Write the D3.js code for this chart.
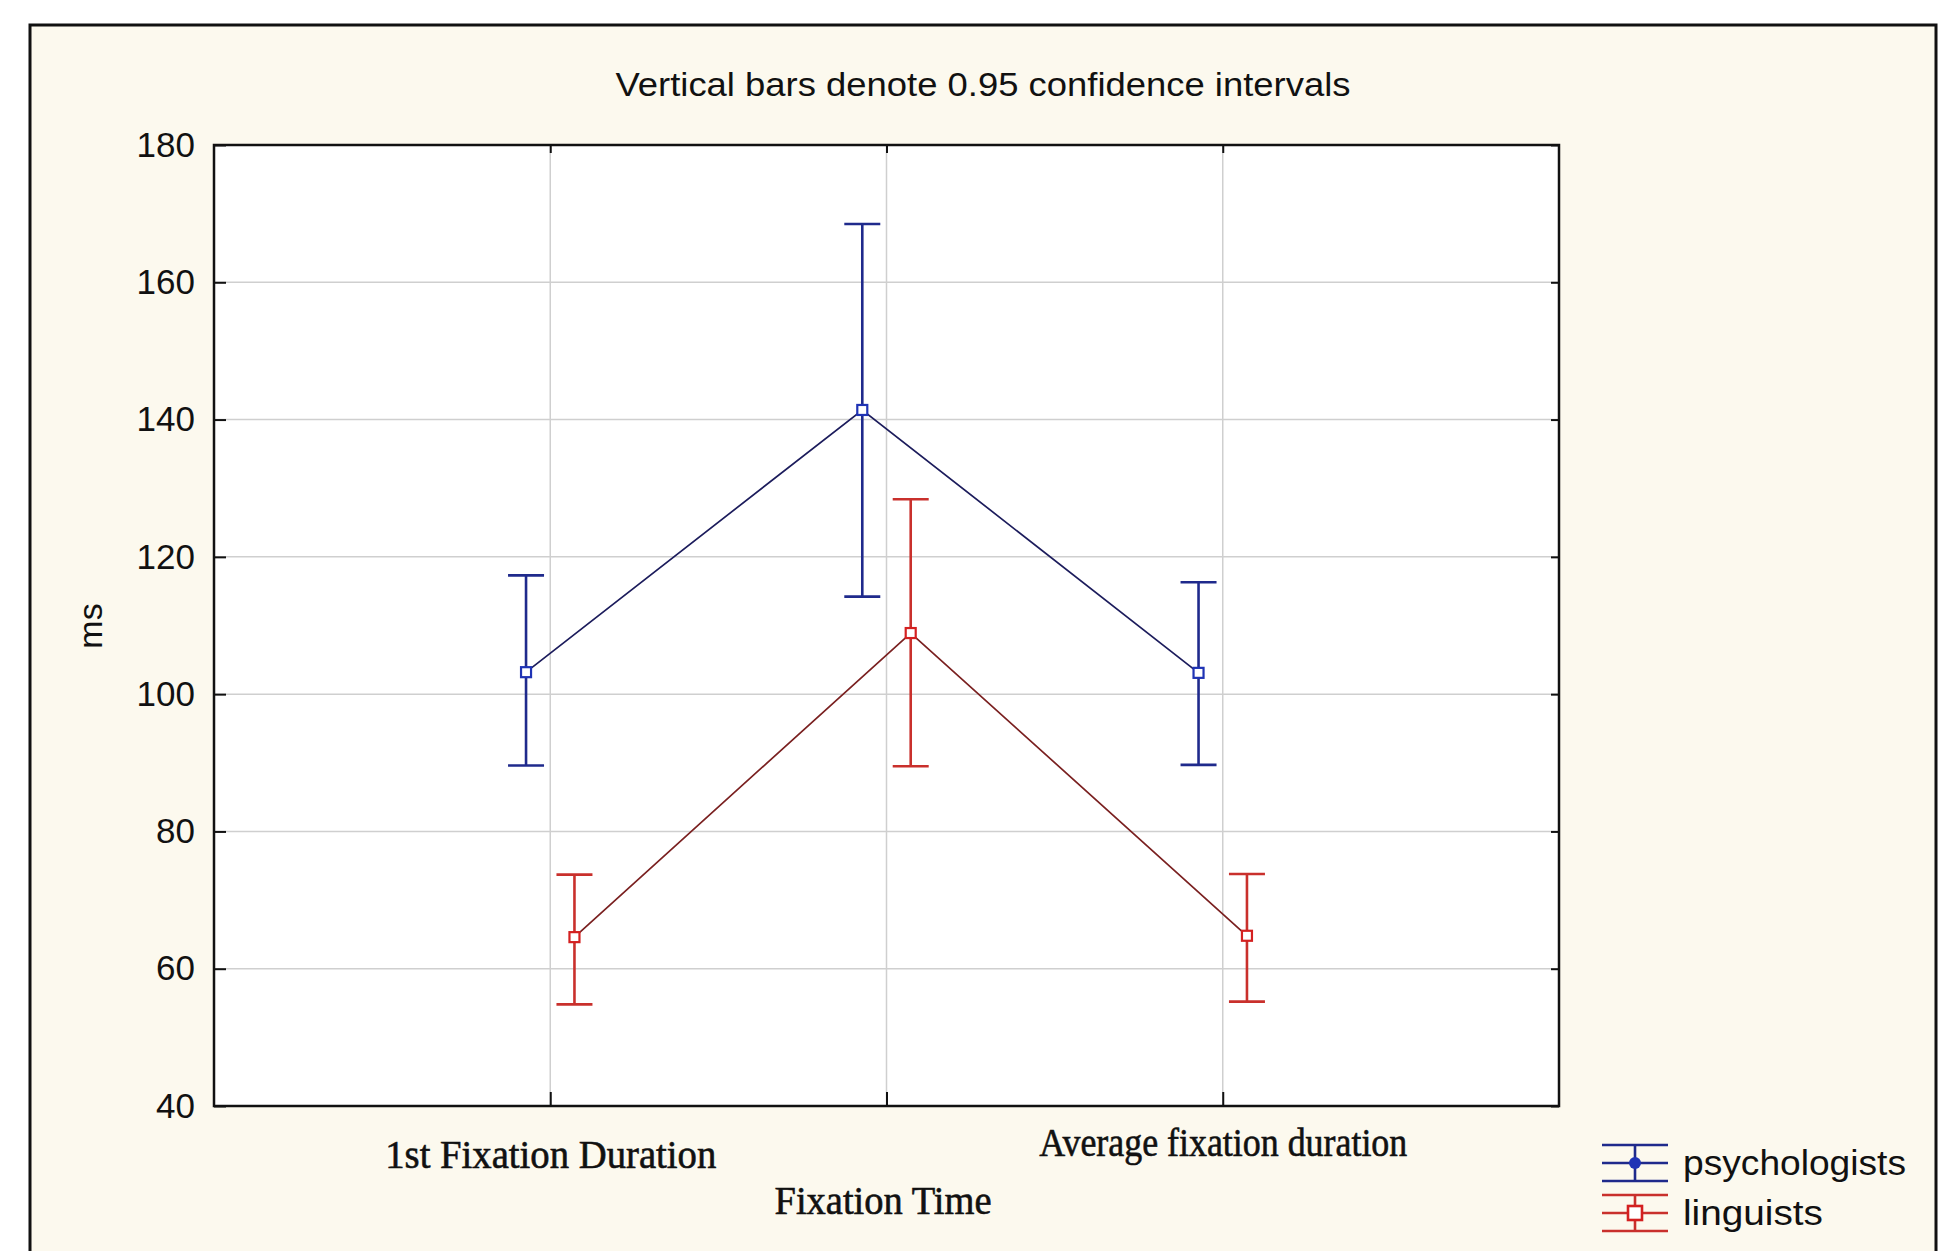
<!DOCTYPE html>
<html>
<head>
<meta charset="utf-8">
<script src="https://cdn.jsdelivr.net/npm/d3@7"></script>
<style>
  html, body { margin: 0; padding: 0; background: #fff; }
  svg { display: block; }
</style>
</head>
<body>
<svg id="chart"></svg>
<script>
// data
var positions = [1, 2, 3];
var tickLabels = ["1st Fixation Duration", "", "Average fixation duration"];
var yTicks = [40, 60, 80, 100, 120, 140, 160, 180];
var seriesNames = ["psychologists", "linguists"];

var psychMean  = [103.2, 141.4, 103.1];
var psychLower = [89.6, 114.2, 89.7];
var psychUpper = [117.3, 168.5, 116.3];

var lingMean  = [64.6, 108.9, 64.8];
var lingLower = [54.8, 89.5, 55.2];
var lingUpper = [73.7, 128.4, 73.8];

var W = 1943, H = 1251;
var plot = {left: 214, top: 145, right: 1559, bottom: 1106};
var sans = "Liberation Sans, Arial, sans-serif",
    serif = "Liberation Serif, Times New Roman, serif";

var svg = d3.select("#chart").attr("width", W).attr("height", H);

// outer panel
svg.append("rect").attr("x", 0).attr("y", 0).attr("width", W).attr("height", H).attr("fill", "#fff");
svg.append("rect")
  .attr("x", 30).attr("y", 25).attr("width", 1906).attr("height", 1260)
  .attr("fill", "#fcf9ee").attr("stroke", "#111").attr("stroke-width", 3);

var x = d3.scaleLinear().domain([0, 4]).range([plot.left, plot.right]);
var y = d3.scaleLinear().domain([40, 180]).range([plot.bottom, plot.top]);

// plot background
svg.append("rect")
  .attr("x", plot.left).attr("y", plot.top)
  .attr("width", plot.right - plot.left).attr("height", plot.bottom - plot.top)
  .attr("fill", "#fff");

// grid
var grid = svg.append("g").attr("stroke", "#cfcfcf").attr("stroke-width", 1.5);
grid.selectAll(".hg").data(yTicks.slice(1, -1)).enter().append("line")
  .attr("x1", plot.left).attr("x2", plot.right)
  .attr("y1", function(d) { return y(d); }).attr("y2", function(d) { return y(d); });
grid.selectAll(".vg").data(positions).enter().append("line")
  .attr("y1", plot.top).attr("y2", plot.bottom)
  .attr("x1", function(d) { return x(d); }).attr("x2", function(d) { return x(d); });

// inner ticks on all four sides
function tickStyle(sel) {
  sel.select(".domain").remove();
  sel.selectAll(".tick line").attr("stroke", "#111").attr("stroke-width", 2);
  sel.selectAll(".tick text").remove();
}
svg.append("g").attr("transform", "translate(" + plot.left + ",0)")
  .call(d3.axisRight(y).tickValues(yTicks).tickSize(12)).call(tickStyle);
svg.append("g").attr("transform", "translate(" + plot.right + ",0)")
  .call(d3.axisLeft(y).tickValues(yTicks).tickSize(8)).call(tickStyle);
svg.append("g").attr("transform", "translate(0," + plot.bottom + ")")
  .call(d3.axisTop(x).tickValues(positions).tickSize(14)).call(tickStyle);
svg.append("g").attr("transform", "translate(0," + plot.top + ")")
  .call(d3.axisBottom(x).tickValues(positions).tickSize(8)).call(tickStyle);

// y tick labels
var yAxis = svg.append("g").attr("transform", "translate(" + plot.left + ",0)")
  .call(d3.axisLeft(y).tickValues(yTicks).tickSize(0).tickPadding(19));
yAxis.select(".domain").remove();
yAxis.selectAll("text").attr("font-size", 35).attr("fill", "#111").attr("font-family", sans);

// x tick labels
var xAxis = svg.append("g").attr("transform", "translate(0," + plot.bottom + ")")
  .call(d3.axisBottom(x).tickValues(positions).tickSize(0).tickPadding(0)
    .tickFormat(function(d, i) { return tickLabels[i]; }));
xAxis.select(".domain").remove();
xAxis.selectAll("text")
  .attr("font-family", serif)
  .attr("font-size", 40).attr("fill", "#111").attr("dy", null)
  .attr("stroke", "#111").attr("stroke-width", 0.6)
  .attr("y", function(d, i) { return i === 2 ? 50 : 62; })
  .attr("textLength", function(d, i) { return i === 0 ? 331 : (i === 2 ? 368 : null); })
  .attr("lengthAdjust", "spacingAndGlyphs");

// plot border
svg.append("rect")
  .attr("x", plot.left).attr("y", plot.top)
  .attr("width", plot.right - plot.left).attr("height", plot.bottom - plot.top)
  .attr("fill", "none").attr("stroke", "#111").attr("stroke-width", 2.5);

// series
var series = [
  {name: seriesNames[0], mean: psychMean, lo: psychLower, hi: psychUpper, off: -0.072,
   bar: "#1f2a8c", line: "#1c1c5c", mark: "#1f33b5", textLen: 223},
  {name: seriesNames[1], mean: lingMean, lo: lingLower, hi: lingUpper, off: 0.072,
   bar: "#c9302c", line: "#7a2020", mark: "#d42020", textLen: 140}
];

var capW = 18;
series.forEach(function(s) {
  var pts = positions.map(function(p, i) {
    return {x: p + s.off, m: s.mean[i], lo: s.lo[i], hi: s.hi[i]};
  });
  var g = svg.append("g");
  g.append("path").datum(pts)
    .attr("fill", "none").attr("stroke", s.line).attr("stroke-width", 1.7)
    .attr("d", d3.line().x(function(d) { return x(d.x); }).y(function(d) { return y(d.m); }));
  var eb = g.selectAll(".eb").data(pts).enter().append("g")
    .attr("stroke", s.bar).attr("stroke-width", 2.6);
  eb.append("line")
    .attr("x1", function(d) { return x(d.x); }).attr("x2", function(d) { return x(d.x); })
    .attr("y1", function(d) { return y(d.lo); }).attr("y2", function(d) { return y(d.hi); });
  eb.append("line")
    .attr("x1", function(d) { return x(d.x) - capW; }).attr("x2", function(d) { return x(d.x) + capW; })
    .attr("y1", function(d) { return y(d.hi); }).attr("y2", function(d) { return y(d.hi); });
  eb.append("line")
    .attr("x1", function(d) { return x(d.x) - capW; }).attr("x2", function(d) { return x(d.x) + capW; })
    .attr("y1", function(d) { return y(d.lo); }).attr("y2", function(d) { return y(d.lo); });
  g.selectAll(".mk").data(pts).enter().append("rect")
    .attr("x", function(d) { return x(d.x) - 5; }).attr("y", function(d) { return y(d.m) - 5; })
    .attr("width", 10).attr("height", 10)
    .attr("fill", "#fff").attr("stroke", s.mark).attr("stroke-width", 2.2);
});

// titles
svg.append("text")
  .attr("x", 983).attr("y", 96).attr("text-anchor", "middle")
  .attr("font-family", sans).attr("font-size", 34).attr("fill", "#111")
  .attr("textLength", 735).attr("lengthAdjust", "spacingAndGlyphs")
  .text("Vertical bars denote 0.95 confidence intervals");

svg.append("text")
  .attr("x", 883).attr("y", 1214).attr("text-anchor", "middle")
  .attr("font-family", serif).attr("font-size", 40).attr("fill", "#111")
  .attr("stroke", "#111").attr("stroke-width", 0.6)
  .attr("textLength", 217).attr("lengthAdjust", "spacingAndGlyphs")
  .text("Fixation Time");

svg.append("text")
  .attr("transform", "translate(102,626) rotate(-90)").attr("text-anchor", "middle")
  .attr("font-family", sans).attr("font-size", 34).attr("fill", "#111")
  .text("ms");

// legend
var legend = svg.append("g");
var legY = [1163, 1213];
series.forEach(function(s, i) {
  var cy = legY[i], lx0 = 1602, lx1 = 1668, cx = 1635;
  var lg = legend.append("g").attr("stroke", s.bar).attr("stroke-width", 2.6);
  [-18, 0, 18].forEach(function(dy) {
    lg.append("line").attr("x1", lx0).attr("x2", lx1).attr("y1", cy + dy).attr("y2", cy + dy);
  });
  lg.append("line").attr("x1", cx).attr("x2", cx).attr("y1", cy - 18).attr("y2", cy + 18);
  if (i === 0) {
    legend.append("circle").attr("cx", cx).attr("cy", cy).attr("r", 6).attr("fill", s.mark);
  } else {
    legend.append("rect").attr("x", cx - 7).attr("y", cy - 7).attr("width", 14).attr("height", 14)
      .attr("fill", "#fff").attr("stroke", s.mark).attr("stroke-width", 2.6);
  }
  legend.append("text").attr("x", 1683).attr("y", cy + 12)
    .attr("font-family", sans).attr("font-size", 35).attr("fill", "#111")
    .attr("textLength", s.textLen).attr("lengthAdjust", "spacingAndGlyphs")
    .text(s.name);
});
</script>
</body>
</html>
